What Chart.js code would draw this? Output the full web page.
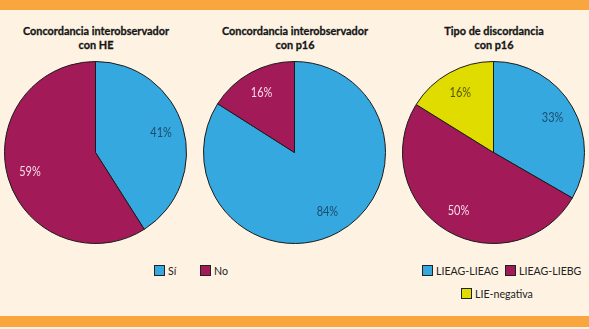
<!DOCTYPE html>
<html><head><meta charset="utf-8">
<script src="https://cdn.jsdelivr.net/npm/chart.js@4.4.1/dist/chart.umd.min.js"></script>
<style>
html,body{margin:0;padding:0;}
body{width:589px;height:329px;background:#fef3e3;position:relative;overflow:hidden;font-family:Lato,'Open Sans',sans-serif;}
.band{position:absolute;left:0;width:589px;background:#f9a63f;}
.title{position:absolute;top:24px;width:0;}
.title span{position:absolute;left:0;top:0;display:block;font-weight:bold;font-size:11.5px;line-height:14px;text-align:center;color:#151515;white-space:nowrap;transform-origin:0 0;-webkit-text-stroke:0.3px #151515;}
.pie{position:absolute;width:183px;height:183px;top:61px;}
.box{position:absolute;width:9px;height:9px;border:1px solid #222;}
.lt{position:absolute;font-size:11.5px;line-height:12px;color:#222;white-space:nowrap;transform-origin:0 0;}
</style></head><body>
<div class="band" style="top:0;height:10px"></div>
<div class="band" style="top:316px;height:11px"></div>
<div id="root"></div>
<script>
// ---- data ----
const titles = [
  ["Concordancia interobservador", "con HE"],
  ["Concordancia interobservador", "con p16"],
  ["Tipo de discordancia", "con p16"]
];
const labels1 = ["Sí", "No"];
const values1 = [41, 59];
const labels2 = ["Sí", "No"];
const values2 = [84, 16];
const labels3 = ["LIEAG-LIEAG", "LIEAG-LIEBG", "LIE-negativa"];
const values3 = [33, 50, 16];
const colors = ["#35a8e0", "#a31a58", "#e1dc00"];
const textColors = ["#1e4b6c", "#f6dde9", "#55540c"];

// ---- layout ----
const pieLeft = [4, 203, 402];
const titleCenter = [96, 294.5, 493.5];
const root = document.getElementById('root');

const mctx = document.createElement('canvas').getContext('2d');
function textW(font, s) { mctx.font = font; return mctx.measureText(s).width; }
// condense factors so the text matches the narrow face of the original
const titleScale = 146 / textW("bold 11.5px Lato", "Concordancia interobservador");
const legScale = 62.5 / textW("11.5px Lato", "LIEAG-LIEAG");
const pctScale = 21.5 / textW("12.5px Lato", "41%");

titles.forEach((t, i) => {
  const d = document.createElement('div');
  d.className = 'title';
  d.style.left = titleCenter[i] + 'px';
  const s = document.createElement('span');
  s.innerHTML = t.join('<br>');
  d.appendChild(s);
  root.appendChild(d);
  const w = s.getBoundingClientRect().width;
  s.style.transform = 'translateX(' + (-w * titleScale / 2) + 'px) scaleX(' + titleScale + ')';
});

const pctLabels = {
  id: 'pctLabels',
  afterDatasetsDraw(chart) {
    const ctx = chart.ctx;
    const meta = chart.getDatasetMeta(0);
    meta.data.forEach((arc, j) => {
      const mid = (arc.startAngle + arc.endAngle) / 2;
      const r = arc.outerRadius * 0.75;
      ctx.save();
      ctx.translate(arc.x + Math.cos(mid) * r, arc.y + Math.sin(mid) * r);
      ctx.scale(pctScale, 1);
      ctx.font = "12.5px Lato";
      ctx.textAlign = 'center';
      ctx.textBaseline = 'middle';
      ctx.fillStyle = textColors[j];
      ctx.fillText(chart.data.datasets[0].data[j] + '%', 0, 0);
      ctx.restore();
    });
  }
};

[[labels1, values1], [labels2, values2], [labels3, values3]].forEach(([lab, val], i) => {
  const d = document.createElement('div');
  d.className = 'pie';
  d.style.left = pieLeft[i] + 'px';
  const c = document.createElement('canvas');
  d.appendChild(c);
  root.appendChild(d);
  new Chart(c, {
    type: 'pie',
    data: { labels: lab, datasets: [{ data: val, backgroundColor: colors.slice(0, val.length), borderColor: '#1a1a1a', borderWidth: 1 }] },
    options: {
      responsive: true, maintainAspectRatio: false, animation: false,
      plugins: { legend: { display: false }, tooltip: { enabled: false } },
      layout: { padding: 0 }
    },
    plugins: [pctLabels]
  });
});

// ---- legends ----
function legendItem(text, color, x, y) {
  const b = document.createElement('div');
  b.className = 'box';
  b.style.left = x + 'px';
  b.style.top = y + 'px';
  b.style.background = color;
  root.appendChild(b);
  const t = document.createElement('div');
  t.className = 'lt';
  t.style.left = (x + 14) + 'px';
  t.style.top = (y - 0.5) + 'px';
  t.style.transform = 'scaleX(' + legScale + ')';
  t.textContent = text;
  root.appendChild(t);
}
legendItem(labels1[0], colors[0], 154, 265);
legendItem(labels1[1], colors[1], 200, 265);
legendItem(labels3[0], colors[0], 422, 265);
legendItem(labels3[1], colors[1], 505, 265);
legendItem(labels3[2], colors[2], 461, 288);
</script>
</body></html>
